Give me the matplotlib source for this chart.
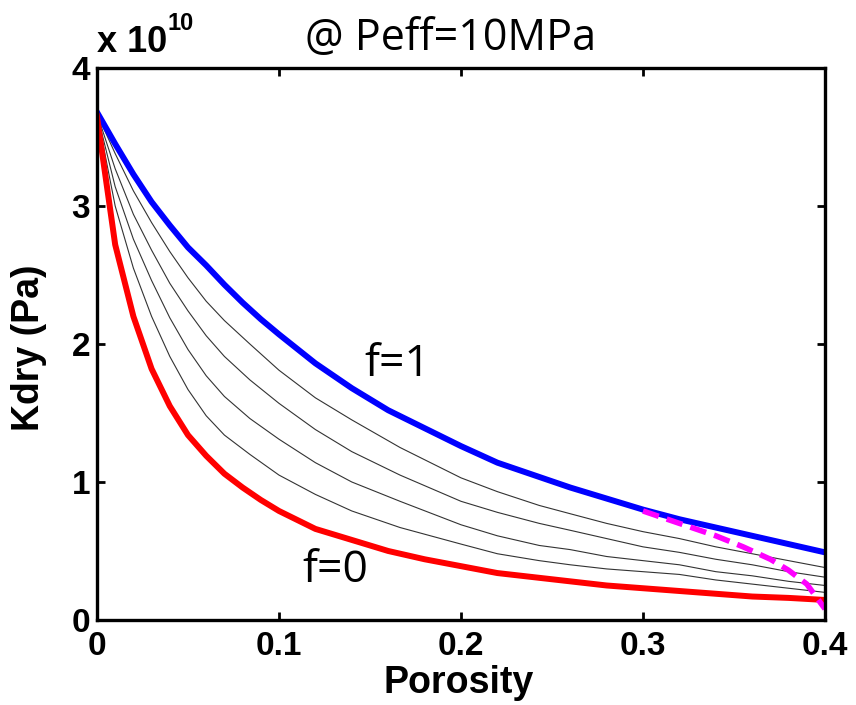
import matplotlib
matplotlib.use("Agg")
import matplotlib.pyplot as plt
import numpy as np

# porosity grid for the two bounds (values in units of 1e10 Pa)
phi = [0, 0.01, 0.02, 0.03, 0.04, 0.05, 0.06, 0.07, 0.08, 0.09, 0.10,
       0.12, 0.14, 0.16, 0.18, 0.20, 0.22, 0.24, 0.26, 0.28, 0.30,
       0.32, 0.34, 0.36, 0.38, 0.40]
k_f1 = [3.68, 3.45, 3.23, 3.03, 2.86, 2.70, 2.57, 2.43, 2.30, 2.18, 2.07,
        1.86, 1.68, 1.52, 1.39, 1.26, 1.14, 1.05, 0.96, 0.88, 0.80,
        0.73, 0.67, 0.61, 0.55, 0.49]
k_f0 = [3.65, 2.72, 2.20, 1.82, 1.55, 1.34, 1.19, 1.06, 0.96, 0.87, 0.79,
        0.66, 0.58, 0.50, 0.44, 0.39, 0.34, 0.31, 0.28, 0.25, 0.23,
        0.21, 0.19, 0.17, 0.16, 0.145]

# intermediate f curves (thin lines)
phi_mid = [0, 0.01, 0.02, 0.03, 0.04, 0.05, 0.06, 0.07, 0.084, 0.10, 0.12, 0.14,
           0.1665, 0.2, 0.22, 0.243, 0.26, 0.28, 0.30, 0.32, 0.34, 0.36, 0.38, 0.40]
k_f08 = [3.67, 3.38, 3.11, 2.88, 2.67, 2.48, 2.31, 2.17, 2.00, 1.81, 1.61, 1.45,
         1.25, 1.03, 0.93, 0.83, 0.77, 0.70, 0.64, 0.59, 0.53, 0.48, 0.43, 0.38]
k_f06 = [3.67, 3.27, 2.94, 2.68, 2.44, 2.24, 2.06, 1.91, 1.74, 1.57, 1.38, 1.22,
         1.05, 0.86, 0.78, 0.70, 0.65, 0.59, 0.53, 0.49, 0.44, 0.40, 0.35, 0.31]
k_f04 = [3.67, 3.14, 2.76, 2.46, 2.19, 1.96, 1.77, 1.62, 1.46, 1.31, 1.14, 1.00,
         0.86, 0.69, 0.61, 0.54, 0.51, 0.46, 0.43, 0.40, 0.35, 0.32, 0.28, 0.25]
k_f02 = [3.67, 3.00, 2.55, 2.20, 1.91, 1.67, 1.48, 1.34, 1.20, 1.05, 0.91, 0.79,
         0.67, 0.55, 0.48, 0.43, 0.40, 0.37, 0.35, 0.33, 0.29, 0.26, 0.23, 0.20]

# dashed magenta branch
phi_dash = [0.30, 0.32, 0.34, 0.355, 0.37, 0.38, 0.39, 0.395, 0.40]
k_dash = [0.79, 0.70, 0.61, 0.53, 0.44, 0.36, 0.26, 0.17, 0.08]

fig = plt.figure(figsize=(8.56, 7.05), dpi=100)
ax = fig.add_axes([0.1133, 0.1206, 0.8505, 0.7829])

for k in [k_f08, k_f06, k_f04, k_f02]:
    ax.plot(phi_mid, k, color='#333333', lw=0.8)
ax.plot(phi, k_f1, color='blue', lw=4.3)
ax.plot(phi, k_f0, color='red', lw=4.3)
ax.plot(phi_dash, k_dash, color='magenta', lw=4, ls=(0, (3, 1.5)))

ax.set_xlim(0, 0.4)
ax.set_ylim(0, 4)
ax.set_xticks([0, 0.1, 0.2, 0.3, 0.4])
ax.set_xticklabels(['0', '0.1', '0.2', '0.3', '0.4'])
ax.set_yticks([0, 1, 2, 3, 4])
ax.tick_params(direction='in', length=6, width=2, top=True, right=True, labelsize=24)
ax.tick_params(axis='x', pad=8)
ax.tick_params(axis='y', pad=5)
for lab in ax.get_xticklabels() + ax.get_yticklabels():
    lab.set_fontweight('bold')
    lab.set_family('Liberation Sans')
for s in ax.spines.values():
    s.set_linewidth(2.4)

ax.set_xlabel('Porosity', fontsize=27, fontweight='bold', family='Liberation Sans')
ax.set_ylabel('Kdry (Pa)', fontsize=27, fontweight='bold', family='Liberation Sans')
ax.xaxis.set_label_coords(0.497, -0.082)
ax.yaxis.set_label_coords(-0.068, 0.493)

ax.text(0.0, 1.029, 'x 10', transform=ax.transAxes, fontsize=26, fontweight='bold',
        family='Liberation Sans', ha='left', va='baseline')
ax.text(0.0975, 1.069, '10', transform=ax.transAxes, fontsize=17, fontweight='bold',
        family='Liberation Sans', ha='left', va='baseline')
ax.text(0.486, 1.033, '@ Peff=10MPa', transform=ax.transAxes, fontsize=31,
        family='Open Sans', ha='center', va='baseline')

ax.text(0.165, 1.85, 'f=1', fontsize=32, family='Open Sans', ha='center', va='center')
ax.text(0.131, 0.36, 'f=0', fontsize=32, family='Open Sans', ha='center', va='center')

fig.savefig('out.png', dpi=100)
